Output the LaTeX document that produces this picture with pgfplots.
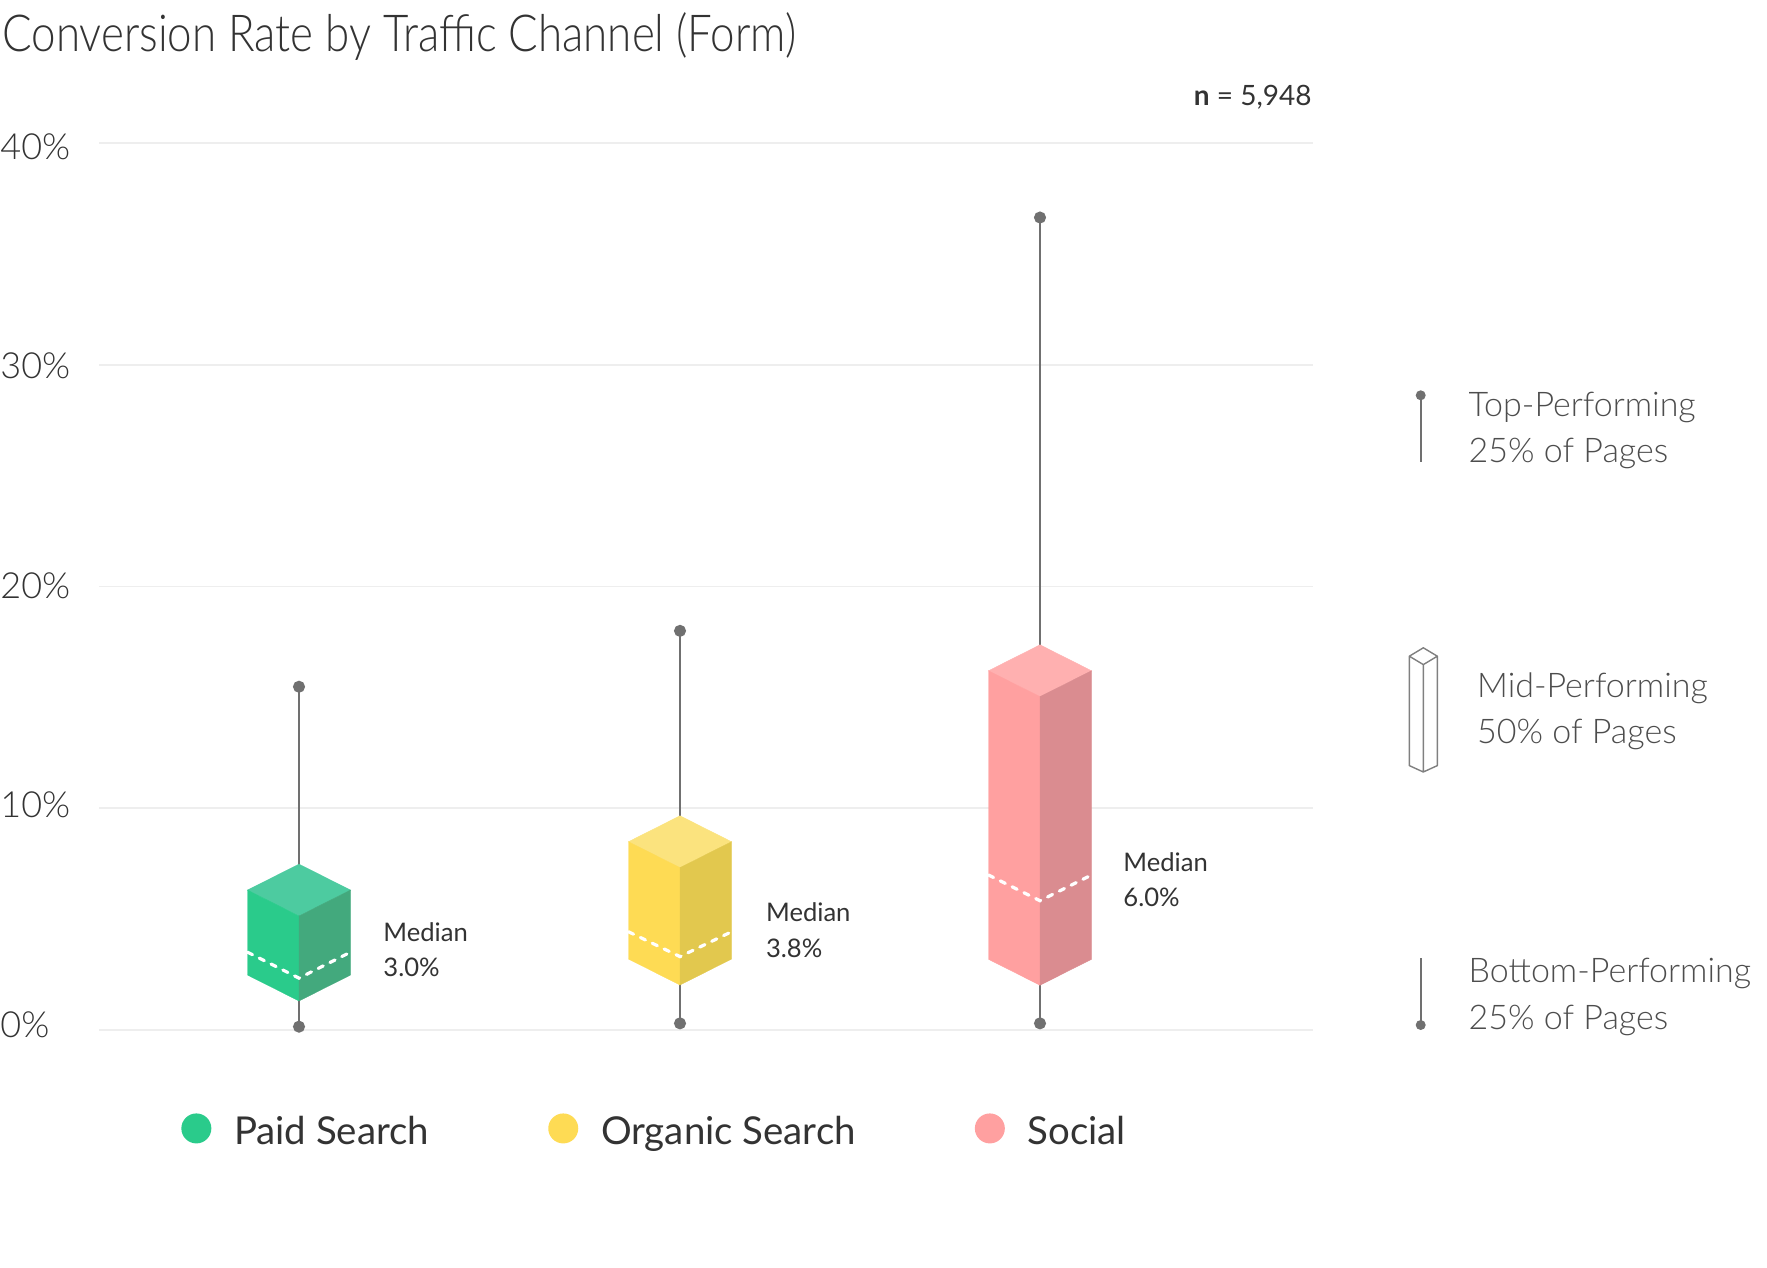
\documentclass[border=0pt]{standalone}
\usepackage{pgfplots}
\pgfplotsset{compat=1.18}
\usepackage{fontspec}
\setmainfont{Lato}
\newfontfamily\latolight{Lato Light}
\newfontfamily\titlefont[FakeStretch=0.86]{Lato Light}
\definecolor{paidL}{RGB}{42,203,139}
\definecolor{paidT}{RGB}{77,203,160}
\definecolor{paidR}{RGB}{67,169,125}
\definecolor{orgL}{RGB}{254,219,84}
\definecolor{orgT}{RGB}{251,227,126}
\definecolor{orgR}{RGB}{226,200,78}
\definecolor{socL}{RGB}{255,160,160}
\definecolor{socT}{RGB}{255,176,176}
\definecolor{socR}{RGB}{218,140,144}
\definecolor{whisk}{RGB}{112,112,112}
\definecolor{gridc}{RGB}{238,238,238}
\definecolor{txt}{RGB}{51,51,51}
\definecolor{ltxt}{RGB}{77,77,77}
\pgfplotsset{medline/.style={white, line width=1.6pt, line cap=round, dash pattern=on 2.8pt off 3.8pt, forget plot}}
\begin{document}
\begin{tikzpicture}
\path[use as bounding box] (0pt,0pt) rectangle (883.5pt,-634pt);
\begin{axis}[
  at={(49.5pt,-515pt)}, anchor=south west,
  scale only axis, width=607pt, height=443.5pt,
  xmin=99, xmax=1313, ymin=0, ymax=40, clip=false,
  axis line style={draw=none}, xtick=\empty,
  ytick={0,10,20,30,40},
  yticklabels={\raisebox{-3.8pt}{0\%},\raisebox{-4.8pt}{10\%},\raisebox{-5.8pt}{20\%},\raisebox{-6.9pt}{30\%},\raisebox{-8.2pt}{40\%}},
  major tick length=0pt, ymajorgrids,
  grid style={gridc, line width=0.8pt},
  yticklabel style={anchor=base west, inner sep=0pt, xshift=-49.5pt,
    font=\latolight\fontsize{18}{18}\selectfont, text=txt},
  legend columns=3,
  legend image code/.code={\fill[#1, draw=none] (7.5pt,1.5pt) circle (7.5pt);},
  legend style={draw=none, fill=none, inner sep=0pt,
    at={(axis description cs:0.0675,-0.113)}, anchor=west,
    font=\fontsize{19.2}{19.2}\selectfont, text=txt,
    nodes={inner sep=0pt},
    /tikz/every odd column/.append style={column sep=11.4pt},
    /tikz/every even column/.append style={column sep=59.5pt}},
]
\addlegendimage{fill=paidL, draw=none}
\addlegendentry{Paid Search}
\addlegendimage{fill=orgL, draw=none}
\addlegendentry{Organic Search}
\addlegendimage{fill=socL, draw=none}
\addlegendentry{Social}
% whiskers
\addplot[whisk, line width=1pt, mark=*, mark size=2.5pt, mark options={fill=whisk, draw=whisk}, forget plot] coordinates {(299,0.15) (299,15.48)};
\addplot[whisk, line width=1pt, mark=*, mark size=2.5pt, mark options={fill=whisk, draw=whisk}, forget plot] coordinates {(680,0.30) (680,18.00)};
\addplot[whisk, line width=1pt, mark=*, mark size=2.5pt, mark options={fill=whisk, draw=whisk}, forget plot] coordinates {(1040,0.30) (1040,36.64)};
% Paid Search box (Q1 2.48, Q3 6.31)
\addplot[fill=paidT, draw=paidT, line width=0.2pt, forget plot] coordinates {(247.5,6.31) (299,7.48) (350.5,6.31) (299,5.14)} -- cycle;
\addplot[fill=paidL, draw=paidL, line width=0.2pt, forget plot] coordinates {(247.5,2.48) (247.5,6.31) (299,5.14) (299,1.31)} -- cycle;
\addplot[fill=paidR, draw=paidR, line width=0.2pt, forget plot] coordinates {(299,1.31) (299,5.14) (350.5,6.31) (350.5,2.48)} -- cycle;
\addplot[medline] coordinates {(247.5,3.51) (299,2.34) (350.5,3.51)};
% Organic Search box (Q1 3.20, Q3 8.49)
\addplot[fill=orgT, draw=orgT, line width=0.2pt, forget plot] coordinates {(628.5,8.49) (680,9.66) (731.5,8.49) (680,7.32)} -- cycle;
\addplot[fill=orgL, draw=orgL, line width=0.2pt, forget plot] coordinates {(628.5,3.20) (628.5,8.49) (680,7.32) (680,2.03)} -- cycle;
\addplot[fill=orgR, draw=orgR, line width=0.2pt, forget plot] coordinates {(680,2.03) (680,7.32) (731.5,8.49) (731.5,3.20)} -- cycle;
\addplot[medline] coordinates {(628.5,4.43) (680,3.31) (731.5,4.43)};
% Social box (Q1 3.19, Q3 16.20)
\addplot[fill=socT, draw=socT, line width=0.2pt, forget plot] coordinates {(988.5,16.20) (1040,17.37) (1091.5,16.20) (1040,15.03)} -- cycle;
\addplot[fill=socL, draw=socL, line width=0.2pt, forget plot] coordinates {(988.5,3.19) (988.5,16.20) (1040,15.03) (1040,2.02)} -- cycle;
\addplot[fill=socR, draw=socR, line width=0.2pt, forget plot] coordinates {(1040,2.02) (1040,15.03) (1091.5,16.20) (1091.5,3.19)} -- cycle;
\addplot[medline] coordinates {(988.5,6.99) (1040,5.83) (1091.5,6.99)};
% median labels
\begin{scope}[every node/.style={anchor=base west, inner sep=0pt, font=\fontsize{12.8}{12.8}\selectfont, text=txt}]
\node at (axis cs:383,3.98) {Median};
\node at (axis cs:383,2.40) {3.0\%};
\node at (axis cs:765.7,4.88) {Median};
\node at (axis cs:765.7,3.25) {3.8\%};
\node at (axis cs:1123,7.14) {Median};
\node at (axis cs:1123,5.56) {6.0\%};
\end{scope}
\end{axis}
\begin{scope}[x=0.5pt, y=-0.5pt]
\node[anchor=base west, inner sep=0pt, font=\titlefont\fontsize{25.5}{25.5}\selectfont, text=txt] at (2,52) {Conversion Rate by Traffic Channel (Form)};
\node[anchor=base east, inner sep=0pt, font=\fontsize{14}{14}\selectfont, text=txt] at (1312,106) {\textbf{n} = 5,948};
% right-hand key
\draw[whisk, line width=1pt] (1420.7,395.3) -- (1420.7,461.7);
\fill[whisk] (1420.7,395.3) circle (2.5pt);
\draw[whisk, line width=1pt] (1420.7,958.4) -- (1420.7,1025);
\fill[whisk] (1420.7,1025) circle (2.5pt);
\draw[gray, line width=0.7pt, line join=round]
  (1409.3,656.2) -- (1423.3,647.8) -- (1437.3,656.2) -- (1423.3,664.6) -- cycle
  (1409.3,656.2) -- (1409.3,765.6) -- (1423.3,772) -- (1437.3,765.6) -- (1437.3,656.2)
  (1423.3,664.6) -- (1423.3,772);
\begin{scope}[every node/.style={anchor=base west, inner sep=0pt, font=\latolight\fontsize{17}{17}\selectfont, text=ltxt}]
\node at (1468.3,416.3) {Top-Performing};
\node at (1468.3,462.6) {25\% of Pages};
\node at (1476.7,697.4) {Mid-Performing};
\node at (1476.7,743.7) {50\% of Pages};
\node at (1468.3,982.4) {Bottom-Performing};
\node at (1468.3,1029) {25\% of Pages};
\end{scope}
\end{scope}
\end{tikzpicture}
\end{document}
